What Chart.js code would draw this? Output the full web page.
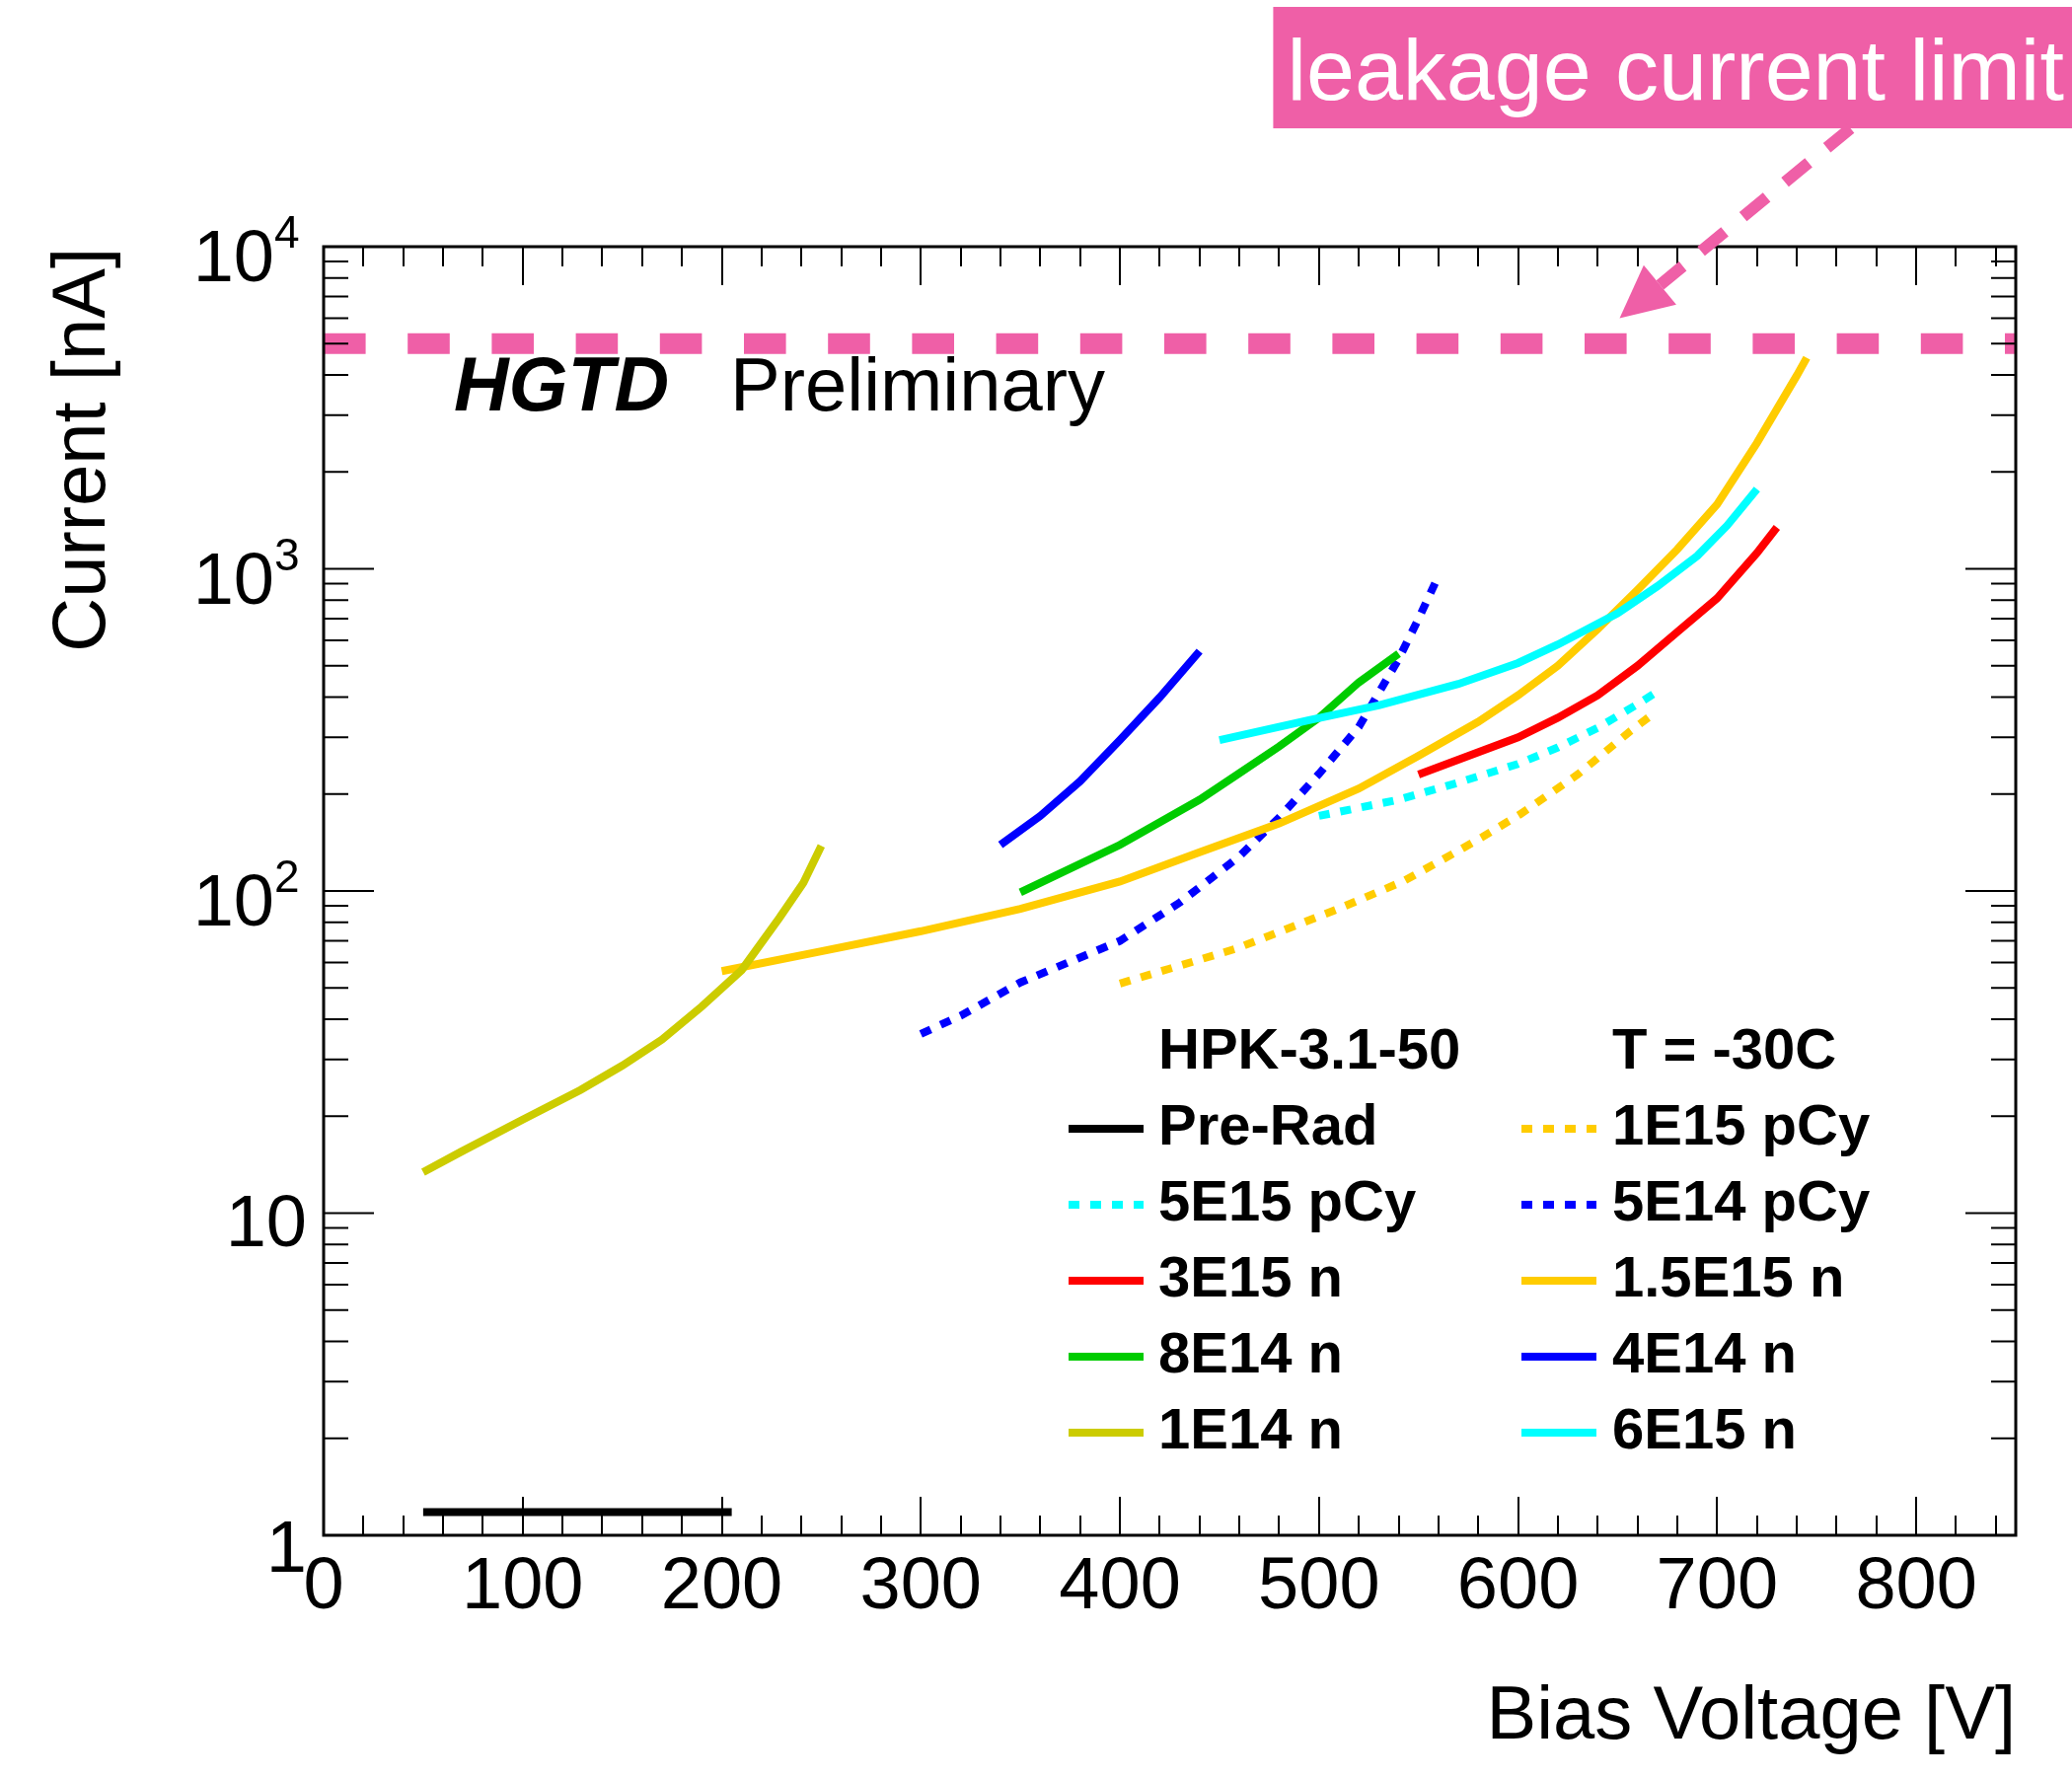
<!DOCTYPE html>
<html>
<head>
<meta charset="utf-8">
<title>HGTD leakage current vs bias voltage</title>
<script src="https://cdn.jsdelivr.net/npm/chart.js@4.4.1/dist/chart.umd.min.js"></script>
<style>
  html, body { margin: 0; padding: 0; background: #ffffff; }
  canvas { display: block; }
</style>
</head>
<body>
<canvas id="iv" width="2100" height="1802"></canvas>
<script>
// ---- Measured I-V curves (bias voltage in V, current in nA) ----
const preRadV   = [50, 100, 150, 205];
const preRadI   = [1.18, 1.18, 1.18, 1.18];

const pcy1e15V  = [400, 425, 458, 490, 511, 542, 562, 582, 601, 630, 656, 668];
const pcy1e15I  = [51.6, 57.4, 66.1, 78.9, 88.7, 107, 125, 147, 173, 230, 312, 355];

const pcy5e15V  = [500, 540, 570, 600, 620, 640, 660, 671];
const pcy5e15I  = [171, 192, 217, 248, 279, 321, 380, 420];

const pcy5e14V  = [300, 320, 350, 400, 430, 460, 480, 500, 520, 540, 550, 560];
const pcy5e14I  = [36, 41, 52, 70, 92, 128, 169, 231, 323, 525, 700, 950];

const n3e15V    = [550, 600, 620, 640, 660, 680, 700, 720, 730];
const n3e15I    = [230, 300, 345, 405, 500, 637, 810, 1120, 1345];

const n15e15V   = [200, 250, 300, 350, 400, 440, 480, 520, 550, 580, 600, 620, 640, 660, 680, 700, 720, 740, 745];
const n15e15I   = [56.4, 65, 75, 88, 107, 132, 162, 208, 263, 335, 405, 500, 650, 860, 1150, 1585, 2460, 3980, 4520];

const n8e14V    = [350, 400, 440, 460, 480, 500, 520, 540];
const n8e14I    = [99, 139, 192, 232, 281, 345, 444, 545];

const n4e14V    = [340, 360, 380, 400, 420, 440];
const n4e14I    = [139, 171, 219, 294, 399, 555];

const n1e14V    = [50, 69, 100, 129, 150, 170, 190, 210, 229, 241, 250];
const n1e14I    = [13.4, 15.5, 19.5, 24.1, 28.7, 34.6, 43.8, 56.8, 82.6, 106, 138];

const n6e15V    = [450, 495, 530, 570, 600, 620, 650, 670, 690, 705, 720];
const n6e15I    = [294, 339, 377, 439, 510, 582, 728, 883, 1097, 1362, 1767];

// Leakage current limit (nA) across the full voltage range
const limitV = [0, 850];
const limitI = [5000, 5000];

// ---- Axis ticks and labels ----
const xTickValues = [0, 100, 200, 300, 400, 500, 600, 700, 800];
const xTickLabels = ['0', '100', '200', '300', '400', '500', '600', '700', '800'];
const yTickValues = [1, 10, 100, 1000, 10000];
const yTickBase   = ['1', '10', '10', '10', '10'];
const yTickPower  = ['', '', '2', '3', '4'];

const legendHeader = ['HPK-3.1-50', 'T = -30C'];

// Annotation for the current limit: box and arrow anchored in data space
const limitNote = {
  text: 'leakage current limit',
  boxLeftV: 477, boxTopI: 55500, boxBottomI: 23300,
  tailV: 767, tailI: 23300,
  tipV: 651, tipI: 6000
};

const PINK = '#ef5fa7';
const FONT = '"Liberation Sans", Arial, Helvetica, sans-serif';
const DOT = [11, 11];

function pts(xs, ys) { return xs.map((x, i) => ({ x: x, y: ys[i] })); }

const series = [
  { label: 'Pre-Rad',    v: preRadV,  i: preRadI,  color: '#000000', dash: [] },
  { label: '1E15 pCy',   v: pcy1e15V, i: pcy1e15I, color: '#ffcc00', dash: DOT },
  { label: '5E15 pCy',   v: pcy5e15V, i: pcy5e15I, color: '#00ffff', dash: DOT },
  { label: '5E14 pCy',   v: pcy5e14V, i: pcy5e14I, color: '#0000ff', dash: DOT },
  { label: '3E15 n',     v: n3e15V,   i: n3e15I,   color: '#ff0000', dash: [] },
  { label: '1.5E15 n',   v: n15e15V,  i: n15e15I,  color: '#ffcc00', dash: [] },
  { label: '8E14 n',     v: n8e14V,   i: n8e14I,   color: '#00cc00', dash: [] },
  { label: '4E14 n',     v: n4e14V,   i: n4e14I,   color: '#0000ff', dash: [] },
  { label: '1E14 n',     v: n1e14V,   i: n1e14I,   color: '#cccc00', dash: [] },
  { label: '6E15 n',     v: n6e15V,   i: n6e15I,   color: '#00ffff', dash: [] }
];

const datasets = series.map((s, k) => ({
  label: s.label,
  data: pts(s.v, s.i),
  borderColor: s.color,
  backgroundColor: s.color,
  borderWidth: 8,
  borderDash: s.dash,
  fill: false,
  showLine: true,
  order: series.length - k,   // later curves are painted on top
  isCurve: true
}));

datasets.push({
  label: 'limit',
  data: pts(limitV, limitI),
  borderColor: PINK,
  borderWidth: 21,
  borderDash: [42.6, 42.6],
  fill: false,
  order: -1,
  isCurve: false
});

// Draws the framed axes with inward ticks on all four sides, labels,
// titles, the legend and the limit annotation.
const frameAndText = {
  id: 'frameAndText',
  afterDatasetsDraw(chart) {
    const ctx = chart.ctx;
    const xs = chart.scales.x, ys = chart.scales.y;
    const a = chart.chartArea;
    ctx.save();
    ctx.strokeStyle = '#000';
    ctx.lineWidth = 2;
    ctx.beginPath();
    for (let v = 0; v <= 850; v += 20) {
      const px = Math.round(xs.getPixelForValue(v));
      const len = (v % 100 === 0) ? 39 : 20;
      ctx.moveTo(px, a.bottom); ctx.lineTo(px, a.bottom - len);
      ctx.moveTo(px, a.top);    ctx.lineTo(px, a.top + len);
    }
    for (let d = 0; d < 4; d++) {
      for (let m = 1; m <= 9; m++) {
        const val = m * Math.pow(10, d);
        const py = ys.getPixelForValue(val);
        const len = (m === 1) ? 51 : 25;
        ctx.moveTo(a.left, py);  ctx.lineTo(a.left + len, py);
        ctx.moveTo(a.right, py); ctx.lineTo(a.right - len, py);
      }
    }
    ctx.stroke();
    ctx.lineWidth = 3;
    ctx.strokeRect(a.left, a.top, a.right - a.left, a.bottom - a.top);
    ctx.restore();
  },
  afterDraw(chart) {
    const ctx = chart.ctx;
    const xs = chart.scales.x, ys = chart.scales.y;
    const a = chart.chartArea;
    ctx.save();
    ctx.fillStyle = '#000';

    // x tick labels
    ctx.font = '74px ' + FONT;
    ctx.textAlign = 'center';
    ctx.textBaseline = 'alphabetic';
    xTickValues.forEach((v, k) => {
      ctx.fillText(xTickLabels[k], xs.getPixelForValue(v), a.bottom + 74);
    });

    // y tick labels (powers of ten)
    yTickValues.forEach((v, k) => {
      const py = ys.getPixelForValue(v);
      if (yTickPower[k]) {
        const supX = a.left - 50;
        ctx.font = '46px ' + FONT;
        ctx.textAlign = 'left';
        ctx.fillText(yTickPower[k], supX, py + 1);
        ctx.font = '74px ' + FONT;
        ctx.textAlign = 'right';
        ctx.fillText(yTickBase[k], supX, py + 35);
      } else {
        ctx.font = '74px ' + FONT;
        ctx.textAlign = 'right';
        ctx.fillText(yTickBase[k], a.left - 17, py + (v === 1 ? 37 : 33));
      }
    });

    // axis titles
    ctx.font = '76px ' + FONT;
    ctx.textAlign = 'right';
    ctx.fillText('Bias Voltage [V]', a.right, 1762);
    ctx.save();
    ctx.translate(106, a.top + 1);
    ctx.rotate(-Math.PI / 2);
    ctx.textAlign = 'right';
    ctx.fillText('Current [nA]', 0, 0);
    ctx.restore();

    // experiment label
    ctx.textAlign = 'left';
    ctx.font = 'italic bold 77px ' + FONT;
    ctx.fillText('HGTD', 460, 416);
    ctx.font = '76px ' + FONT;
    ctx.fillText('Preliminary', 740, 416);

    // legend: header row, then two columns of curves
    const colLine = [1083, 1542];
    const colText = [1174, 1634];
    const lineLen = 76;
    const row0 = 1083, rowStep = 77;
    ctx.font = 'bold 58px ' + FONT;
    ctx.fillText(legendHeader[0], colText[0], row0);
    ctx.fillText(legendHeader[1], colText[1], row0);
    const curves = chart.data.datasets.filter(d => d.isCurve);
    curves.forEach((d, k) => {
      const col = k % 2, row = Math.floor(k / 2) + 1;
      const base = row0 + row * rowStep;
      ctx.save();
      ctx.strokeStyle = d.borderColor;
      ctx.lineWidth = d.borderWidth;
      ctx.lineCap = 'butt';
      ctx.setLineDash(d.borderDash || []);
      ctx.beginPath();
      ctx.moveTo(colLine[col], base - 16);
      ctx.lineTo(colLine[col] + lineLen, base - 16);
      ctx.stroke();
      ctx.restore();
      ctx.fillStyle = '#000';
      ctx.font = 'bold 58px ' + FONT;
      ctx.fillText(d.label, colText[col], base);
    });

    // limit annotation: box, label and dashed arrow
    const bx = xs.getPixelForValue(limitNote.boxLeftV);
    const by0 = ys.getPixelForValue(limitNote.boxTopI);
    const by1 = ys.getPixelForValue(limitNote.boxBottomI);
    ctx.fillStyle = PINK;
    ctx.fillRect(bx, by0, chart.width - bx, by1 - by0);
    ctx.fillStyle = '#ffffff';
    ctx.font = '88px ' + FONT;
    ctx.textAlign = 'left';
    ctx.fillText(limitNote.text, bx + 14, by1 - 29);

    const tx = xs.getPixelForValue(limitNote.tailV), ty = ys.getPixelForValue(limitNote.tailI);
    const hx = xs.getPixelForValue(limitNote.tipV),  hy = ys.getPixelForValue(limitNote.tipI);
    const dx = hx - tx, dy = hy - ty, L = Math.hypot(dx, dy);
    const ux = dx / L, uy = dy / L;
    const headLen = 53, headHalf = 26;
    const baseX = hx - ux * headLen, baseY = hy - uy * headLen;
    ctx.strokeStyle = PINK;
    ctx.lineWidth = 12;
    ctx.lineCap = 'butt';
    ctx.setLineDash([31, 24]);
    ctx.beginPath();
    ctx.moveTo(tx, ty);
    ctx.lineTo(baseX, baseY);
    ctx.stroke();
    ctx.setLineDash([]);
    ctx.fillStyle = PINK;
    ctx.beginPath();
    ctx.moveTo(hx, hy);
    ctx.lineTo(baseX - uy * headHalf, baseY + ux * headHalf);
    ctx.lineTo(baseX + uy * headHalf, baseY - ux * headHalf);
    ctx.closePath();
    ctx.fill();

    ctx.restore();
  }
};

new Chart(document.getElementById('iv').getContext('2d'), {
  type: 'line',
  data: { datasets: datasets },
  options: {
    responsive: false,
    animation: false,
    devicePixelRatio: 1,
    layout: { padding: { left: 328, top: 250, right: 57, bottom: 246 } },
    scales: {
      x: { type: 'linear', min: 0, max: 850, display: false },
      y: { type: 'logarithmic', min: 1, max: 10000, display: false }
    },
    elements: {
      point: { radius: 0, hoverRadius: 0 },
      line: { tension: 0, borderCapStyle: 'butt', borderJoinStyle: 'miter' }
    },
    plugins: {
      legend: { display: false },
      tooltip: { enabled: false },
      title: { display: false }
    },
    events: []
  },
  plugins: [frameAndText]
});
</script>
</body>
</html>
